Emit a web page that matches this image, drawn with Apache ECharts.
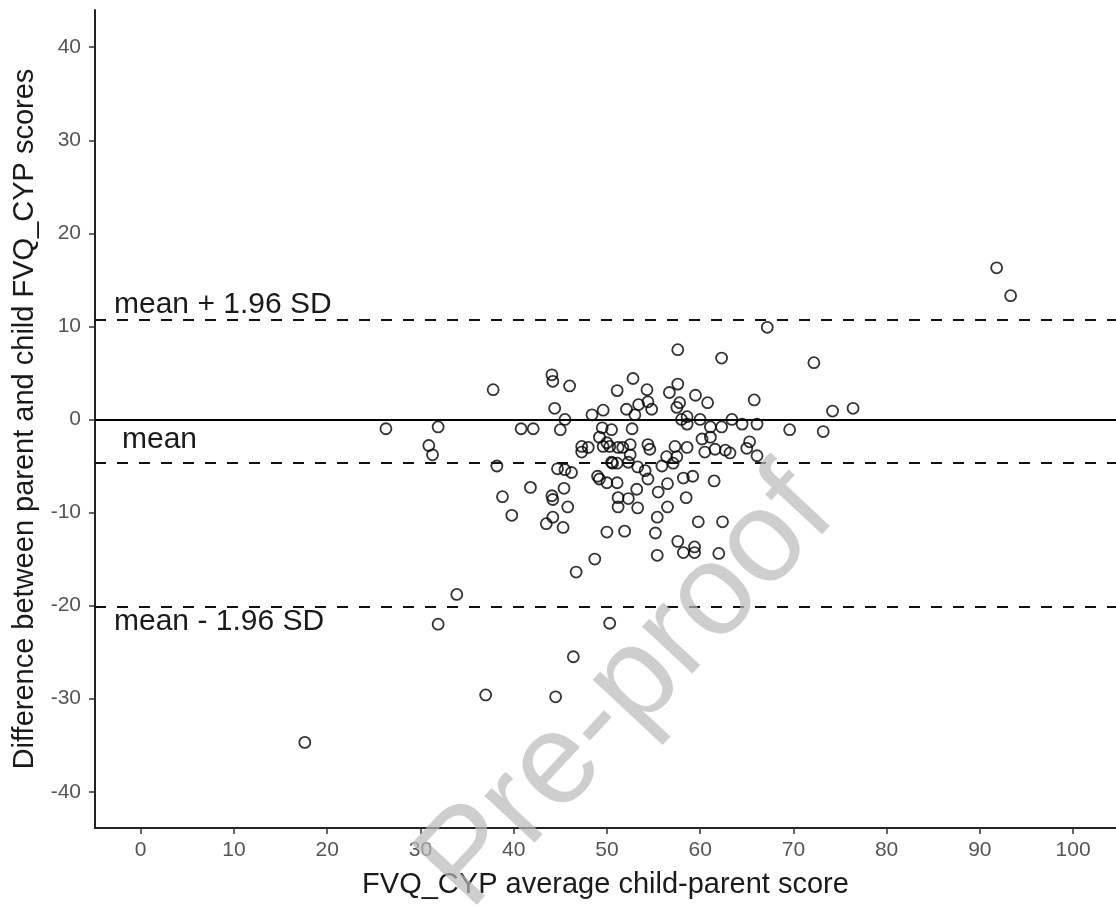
<!DOCTYPE html>
<html>
<head>
<meta charset="utf-8">
<script src="https://cdn.jsdelivr.net/npm/echarts@6/dist/echarts.min.js"></script>
<style>
  html, body { margin: 0; padding: 0; background: #fff; }
  #chart { width: 1116px; height: 907px; }
</style>
</head>
<body>
<div id="chart"></div>
<script>
// average child-parent score (x) and parent-child difference (y)
const avgScore = [
  91.8, 93.3, 67.2, 72.2, 57.6, 62.3, 52.8, 44.1, 44.2, 46.0,
  37.8, 51.1, 54.3, 57.6, 56.7, 59.5, 60.8, 65.8, 44.4, 45.5,
  45.0, 48.4, 49.6, 52.1, 53.4, 54.4, 54.8, 53.0, 57.5, 57.8,
  58.6, 58.0, 58.6, 60.0, 61.1, 62.3, 63.4, 64.5, 66.1, 69.6,
  73.2, 74.2, 76.4, 26.3, 31.9, 30.9, 31.3, 40.8, 42.1, 49.5,
  50.5, 52.7, 49.2, 50.0, 47.3, 48.0, 47.3, 49.6, 50.3, 51.2,
  51.7, 52.5, 52.5, 54.4, 54.6, 57.3, 58.6, 60.2, 61.1, 60.5,
  61.6, 62.7, 63.2, 65.3, 65.0, 66.1, 56.4, 57.5, 57.1, 50.6,
  51.1, 52.3, 55.9, 38.2, 44.7, 45.5, 46.2, 53.3, 54.1, 54.4,
  49.0, 49.2, 50.0, 51.1, 53.2, 55.5, 56.5, 58.2, 59.2, 61.5,
  41.8, 45.4, 38.8, 44.1, 44.2, 51.2, 52.3, 51.2, 53.3, 56.5,
  58.5, 55.4, 45.8, 39.8, 43.5, 44.2, 45.3, 50.0, 51.9, 55.2,
  57.6, 58.2, 59.4, 59.4, 59.8, 62.4, 62.0, 55.4, 48.7, 46.7,
  33.9, 31.9, 50.3, 46.4, 37.0, 44.5, 17.6, 50.5
];
const diffScore = [
  16.3, 13.3, 9.9, 6.1, 7.5, 6.6, 4.4, 4.8, 4.1, 3.6,
  3.2, 3.1, 3.2, 3.8, 2.9, 2.6, 1.8, 2.1, 1.2, 0.0,
  -1.1, 0.5, 1.0, 1.1, 1.6, 1.9, 1.1, 0.5, 1.3, 1.8,
  0.3, 0.0, -0.5, 0.0, -0.8, -0.8, 0.0, -0.5, -0.5, -1.1,
  -1.3, 0.9, 1.2, -1.0, -0.8, -2.8, -3.8, -1.0, -1.0, -0.9,
  -1.1, -1.0, -1.9, -2.5, -2.9, -3.0, -3.5, -2.9, -2.9, -3.0,
  -3.0, -2.7, -3.8, -2.7, -3.2, -2.9, -3.0, -2.1, -1.9, -3.5,
  -3.2, -3.3, -3.6, -2.4, -3.1, -3.9, -4.0, -4.0, -4.7, -4.7,
  -4.7, -4.6, -5.0, -5.0, -5.3, -5.4, -5.7, -5.1, -5.5, -6.4,
  -6.1, -6.4, -6.8, -6.8, -7.5, -7.8, -6.9, -6.3, -6.1, -6.6,
  -7.3, -7.4, -8.3, -8.2, -8.6, -8.4, -8.5, -9.4, -9.5, -9.4,
  -8.4, -10.5, -9.4, -10.3, -11.2, -10.5, -11.6, -12.1, -12.0, -12.2,
  -13.1, -14.3, -14.3, -13.7, -11.0, -11.0, -14.4, -14.6, -15.0, -16.4,
  -18.8, -22.0, -21.9, -25.5, -29.6, -29.8, -34.7, -4.6
];

const meanDiff = -4.7;
const upperLimit = 10.7;
const lowerLimit = -20.1;

const xTicks = [0, 10, 20, 30, 40, 50, 60, 70, 80, 90, 100];
const yTicks = [-40, -30, -20, -10, 0, 10, 20, 30, 40];

const chart = echarts.init(document.getElementById('chart'));
const font = '"Liberation Sans", Arial, sans-serif';

const dashed = { color: '#111', width: 2, type: [11, 11] };

const option = {
    animation: false,
    grid: { left: 95, right: 0, top: 10, bottom: 79 },
    xAxis: {
        type: 'value',
        min: -4.9,
        max: 104.6,
        name: 'FVQ_CYP average child-parent score',
        nameLocation: 'middle',
        nameGap: 42,
        nameTextStyle: { fontFamily: font, fontSize: 29, color: '#1a1a1a' },
        splitLine: { show: false },
        axisLine: { onZero: false, lineStyle: { color: '#222', width: 2 } },
        axisTick: { customValues: xTicks, length: 6, lineStyle: { color: '#333', width: 1.5 } },
        axisLabel: { customValues: xTicks, margin: 12, fontFamily: font, fontSize: 21, color: '#555' }
    },
    yAxis: {
        type: 'value',
        min: -43.9,
        max: 44,
        name: 'Difference between parent and child FVQ_CYP scores',
        nameLocation: 'middle',
        nameGap: 56,
        nameTextStyle: { fontFamily: font, fontSize: 29, color: '#1a1a1a' },
        splitLine: { show: false },
        axisLine: { onZero: false, lineStyle: { color: '#222', width: 2 } },
        axisTick: { customValues: yTicks, length: 6, lineStyle: { color: '#333', width: 1.5 } },
        axisLabel: { customValues: yTicks, margin: 14, fontFamily: font, fontSize: 21, color: '#555' }
    },
    series: [{
        type: 'scatter',
        data: avgScore.map((x, i) => [x, diffScore[i]]),
        symbol: 'circle',
        symbolSize: 11,
        itemStyle: { color: 'rgba(0,0,0,0)', borderColor: '#000', borderWidth: 1.8 },
        markLine: {
            silent: true,
            symbol: 'none',
            label: { fontFamily: font, fontSize: 30, color: '#1a1a1a' },
            data: [
                { yAxis: 0, lineStyle: { color: '#000', width: 2, type: 'solid' }, label: { show: false } },
                { yAxis: upperLimit, lineStyle: dashed,
                  label: { position: 'insideStartTop', distance: [19, 0], formatter: 'mean + 1.96 SD' } },
                { yAxis: meanDiff, lineStyle: dashed,
                  label: { position: 'insideStartTop', distance: [27, 8], formatter: 'mean' } },
                { yAxis: lowerLimit, lineStyle: dashed,
                  label: { position: 'insideStartBottom', distance: [19, 0], formatter: 'mean - 1.96 SD' } }
            ]
        }
    }],
    graphic: [{
        type: 'text',
        x: 628,
        y: 690,
        rotation: 47 * Math.PI / 180,
        z: 100,
        style: {
            text: 'Pre-proof',
            fontFamily: font,
            fontSize: 130,
            fill: 'rgba(185,185,185,0.7)',
            align: 'center',
            verticalAlign: 'middle'
        }
    }]
};

chart.setOption(option);
</script>
</body>
</html>
